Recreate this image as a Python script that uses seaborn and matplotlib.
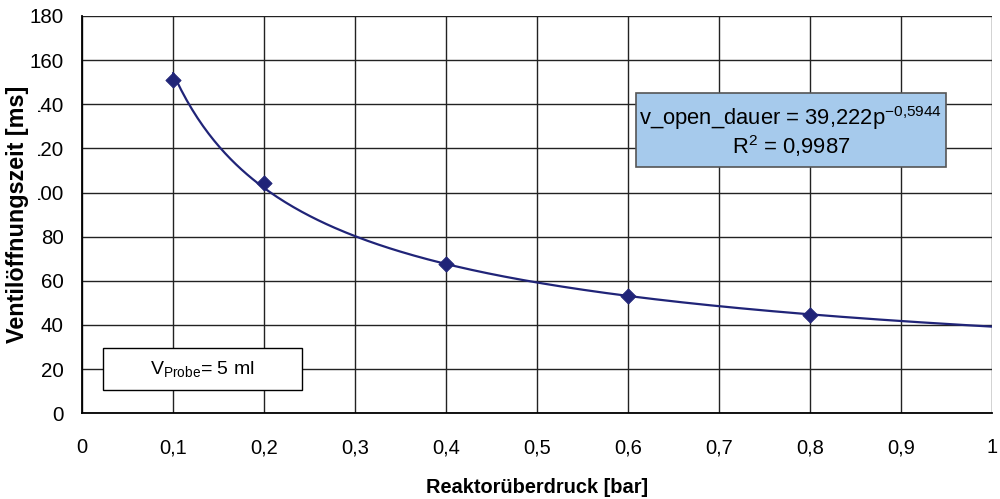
import numpy as np
import pandas as pd
import matplotlib
matplotlib.use("Agg")
import matplotlib.pyplot as plt
from matplotlib.patches import Rectangle
import seaborn as sns

# messwerte: reaktorueberdruck gegen ventiloeffnungszeit
druck = [0.1, 0.2, 0.4, 0.6, 0.8]
zeit = [151, 104.5, 67.5, 53, 44.5]

# trendlinie (potenz) wie im diagramm angegeben
koeff_a = 39.222
koeff_b = -0.5944

x_ticks = [0, 0.1, 0.2, 0.3, 0.4, 0.5, 0.6, 0.7, 0.8, 0.9, 1]
x_labels = ["0", "0,1", "0,2", "0,3", "0,4", "0,5", "0,6", "0,7", "0,8", "0,9", "1"]
y_ticks = [0, 20, 40, 60, 80, 100, 120, 140, 160, 180]

sns.set_style("white")
plt.rcParams["font.family"] = ["Liberation Sans", "DejaVu Sans"]
plt.rcParams["mathtext.fontset"] = "custom"
plt.rcParams["mathtext.rm"] = "Liberation Sans"
plt.rcParams["mathtext.default"] = "regular"
for k in ["text.color", "axes.labelcolor", "xtick.color", "ytick.color"]:
    plt.rcParams[k] = "black"

df = pd.DataFrame({"p": druck, "t": zeit})
p_fit = np.linspace(0.1, 1.0, 300)
df_fit = pd.DataFrame({"p": p_fit, "t": koeff_a * p_fit ** koeff_b})

farbe = "#202478"

fig = plt.figure(figsize=(10, 4.99), dpi=100)
ax = fig.add_axes([0.082, 0.172, 0.91, 0.796])

sns.lineplot(data=df_fit, x="p", y="t", ax=ax, color=farbe, linewidth=1.6, zorder=3)
sns.scatterplot(data=df, x="p", y="t", ax=ax, color=farbe, marker="D", s=60,
                edgecolor=farbe, zorder=4)

ax.set_xlim(0, 1)
ax.set_ylim(0, 180)
ax.set_xticks(x_ticks)
ax.set_xticklabels(x_labels, fontsize=14.5)
ax.set_yticks(y_ticks)
ax.set_yticklabels([str(v) for v in y_ticks], fontsize=14.8)
ax.grid(True, color="#222222", linewidth=1.0)
ax.set_axisbelow(True)
for s in ["top", "right"]:
    ax.spines[s].set_visible(False)
for s in ["left", "bottom"]:
    ax.spines[s].set_color("black")
    ax.spines[s].set_linewidth(1.3)
ax.tick_params(axis="both", direction="out", length=6, width=1, color="black")
ax.tick_params(axis="y", pad=7)
ax.tick_params(axis="x", pad=12)

ax.set_xlabel("Reaktorüberdruck [bar]", fontsize=14.4, fontweight="bold", labelpad=15)
ax.set_ylabel("")

# y-beschriftung mit weissem kasten (deckt die erste ziffer ab wie im original)
fig.text(0.018, 0.571, "Ventilöffnungszeit [ms]", rotation=90, ha="center", va="center",
         fontsize=16.8, fontweight="bold",
         bbox=dict(facecolor="white", edgecolor="none", pad=6))

# kasten mit formel der trendlinie
ax.add_patch(Rectangle((0.609, 0.620), 0.340, 0.186, transform=ax.transAxes,
                       facecolor="#A6CAEC", edgecolor="#555555", linewidth=1.2, zorder=5))
ax.text(0.779, 0.708, "v_open_dauer = 39,222p$^{-0{,}5944}$\nR$^2$ = 0,9987",
        transform=ax.transAxes, ha="center", va="center", fontsize=15.8,
        linespacing=1.05, zorder=6)

# kasten mit probenvolumen
ax.add_patch(Rectangle((0.023, 0.058), 0.219, 0.106, transform=ax.transAxes,
                       facecolor="white", edgecolor="black", linewidth=1.0, zorder=5))
ax.text(0.132, 0.111, "V$_{Probe}$= 5 ml", transform=ax.transAxes,
        ha="center", va="center", fontsize=14, zorder=6)

fig.savefig("out.png", dpi=100)
plt.close(fig)
